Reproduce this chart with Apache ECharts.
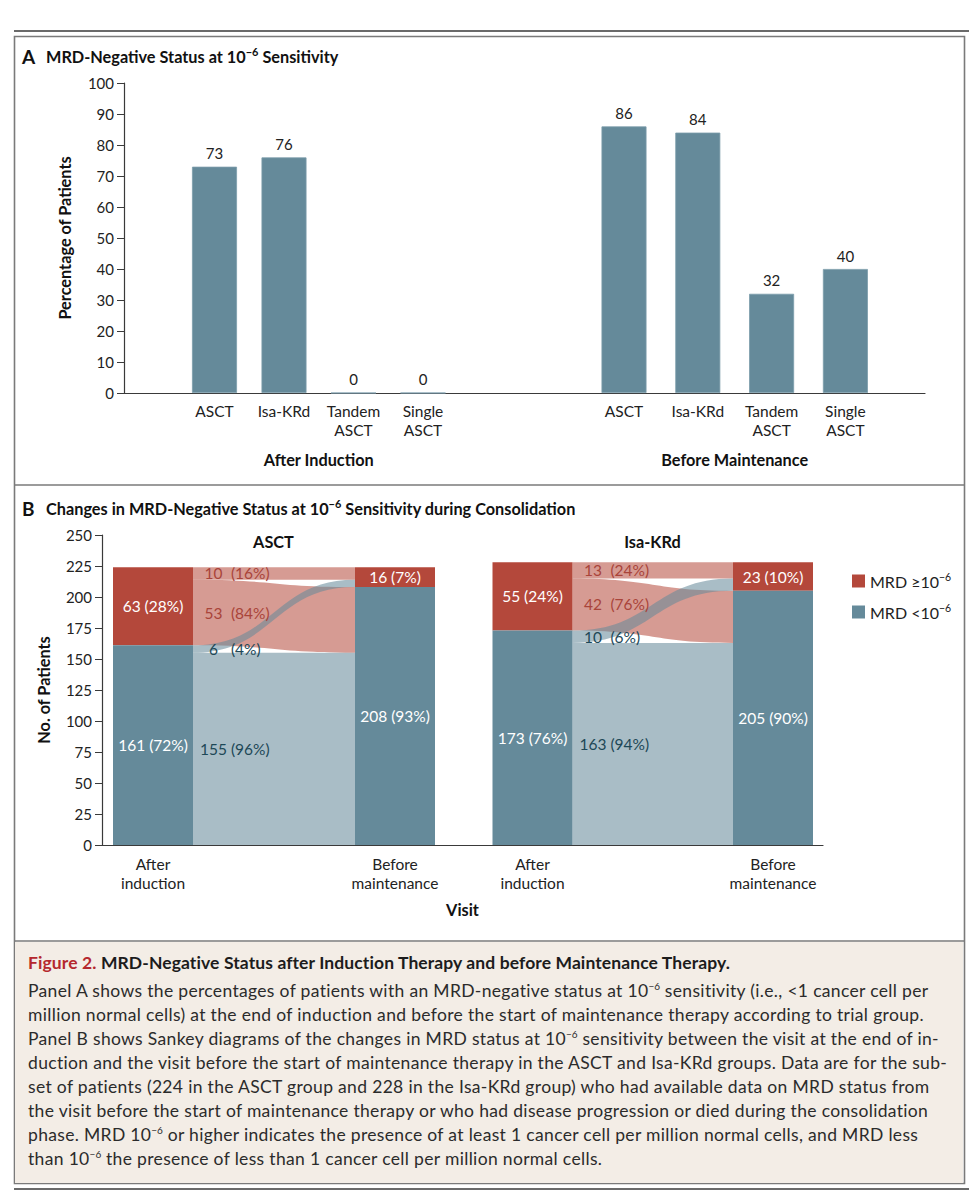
<!DOCTYPE html>
<html>
<head>
<meta charset="utf-8">
<script src="https://cdn.jsdelivr.net/npm/echarts@6/dist/echarts.min.js"></script>
<style>
html,body{margin:0;padding:0;background:#fff;}
#wrap{position:relative;width:973px;height:1200px;overflow:hidden;}
#chart{position:absolute;left:0;top:0;width:973px;height:1200px;}
#cap{position:absolute;left:15px;top:942px;width:948px;height:241px;background:#f3ede6;box-sizing:border-box;padding:9px 0 0 13px;font-family:Lato,sans-serif;color:#2b2b2b;}
#cap .h{font-size:17.5px;line-height:24px;font-weight:bold;color:#1c1c1c;margin-bottom:4px;white-space:nowrap;letter-spacing:0.1px;}
#cap .h span{color:#b5282e;}
#cap .b{font-size:17.5px;line-height:24px;white-space:nowrap;letter-spacing:0.33px;}
#cap sup{font-size:10px;line-height:0;vertical-align:7px;letter-spacing:0;}
</style>
</head>
<body>
<div id="wrap">
<div id="chart"></div>
<div id="cap">
<div class="h"><span>Figure 2.</span> MRD-Negative Status after Induction Therapy and before Maintenance Therapy.</div>
<div class="b">Panel A shows the percentages of patients with an MRD-negative status at 10<sup>−6</sup> sensitivity (i.e., &lt;1 cancer cell per</div>
<div class="b">million normal cells) at the end of induction and before the start of maintenance therapy according to trial group.</div>
<div class="b">Panel B shows Sankey diagrams of the changes in MRD status at 10<sup>−6</sup> sensitivity between the visit at the end of in-</div>
<div class="b">duction and the visit before the start of maintenance therapy in the ASCT and Isa-KRd groups. Data are for the sub-</div>
<div class="b">set of patients (224 in the ASCT group and 228 in the Isa-KRd group) who had available data on MRD status from</div>
<div class="b">the visit before the start of maintenance therapy or who had disease progression or died during the consolidation</div>
<div class="b">phase. MRD 10<sup>−6</sup> or higher indicates the presence of at least 1 cancer cell per million normal cells, and MRD less</div>
<div class="b">than 10<sup>−6</sup> the presence of less than 1 cancer cell per million normal cells.</div>
</div>
</div>
<script>
// ---------- DATA ----------
const panelACats = ['ASCT', 'Isa-KRd', 'Tandem\nASCT', 'Single\nASCT'];
const afterInduction = [73, 76, 0, 0];
const beforeMaintenance = [86, 84, 32, 40];
const visits = ['After\ninduction', 'Before\nmaintenance'];
// nodes: [after induction MRD>=, after induction MRD<, before maintenance MRD>=, before maintenance MRD<]
const asctNodeN = [63, 161, 16, 208];
const asctNodePct = [28, 72, 7, 93];
// flows: [>= to >=, >= to <, < to >=, < to <]
const asctFlowN = [10, 53, 6, 155];
const asctFlowPct = [16, 84, 4, 96];
const isaNodeN = [55, 173, 23, 205];
const isaNodePct = [24, 76, 10, 90];
const isaFlowN = [13, 42, 10, 163];
const isaFlowPct = [24, 76, 6, 94];
const legendNames = ['MRD ≥10−6', 'MRD <10−6'];

// ---------- STYLE ----------
const FONT = 'Lato';
const BAR = '#658a9a';
const RED = '#b4483b';
const BLUE = '#658a9a';
const RED_LINK = 'rgba(180,72,59,0.55)';
const BLUE_LINK = 'rgba(101,138,154,0.56)';
const RED_TXT = '#a9443a';
const BLUE_TXT = '#1d4857';
const AXC = '#3a3a3a';
const NODE_HALF = 40;
const SK_FS = 15.5;

function buildSankey(nodeN, nodePct, flowN, flowPct) {
  const [ip, ineg, mp, mneg] = nodeN;
  const [pp, pn, np, nn] = flowN;
  const it = ip + ineg, mt = mp + mneg;
  return {
    pos: [[0, ineg, it, ip, nodePct[0]], [1, mneg, mt, mp, nodePct[2]]],
    neg: [[0, 0, ineg, ineg, nodePct[1]], [1, 0, mneg, mneg, nodePct[3]]],
    links: [
      [0, it - pp, it, mt - pp, mt, 0, pp, flowPct[0]],
      [0, it - pp - pn, it - pp, mneg - pn, mneg, 0, pn, flowPct[1]],
      [0, ineg - np, ineg, mt - pp - np, mt - pp, 1, np, flowPct[2]],
      [0, ineg - np - nn, ineg - np, mneg - pn - nn, mneg - pn, 1, nn, flowPct[3]]
    ]
  };
}
const sA = buildSankey(asctNodeN, asctNodePct, asctFlowN, asctFlowPct);
const sI = buildSankey(isaNodeN, isaNodePct, isaFlowN, isaFlowPct);

function renderLink(params, api) {
  const s0 = api.value(1), s1 = api.value(2), t0 = api.value(3), t1 = api.value(4);
  const kind = api.value(5), n = api.value(6), pct = api.value(7);
  const a = api.coord([0, s1]), b = api.coord([0, s0]), c = api.coord([1, t1]), d = api.coord([1, t0]);
  const x0 = a[0] + NODE_HALF, x1 = c[0] - NODE_HALF, xm = (x0 + x1) / 2;
  const p = 'M' + x0 + ' ' + a[1] + 'C' + xm + ' ' + a[1] + ' ' + xm + ' ' + c[1] + ' ' + x1 + ' ' + c[1] +
            'L' + x1 + ' ' + d[1] + 'C' + xm + ' ' + d[1] + ' ' + xm + ' ' + b[1] + ' ' + x0 + ' ' + b[1] + 'Z';
  const mid = api.coord([0, (s0 + s1) / 2]);
  const col = kind ? BLUE_TXT : RED_TXT;
  return {
    type: 'group',
    children: [
      { type: 'path', z2: kind ? 2 : 1, shape: { pathData: p }, style: { fill: kind ? BLUE_LINK : RED_LINK } },
      { type: 'text', z2: 10, style: {
          text: '{n|' + n + '}{p| (' + pct + '%)}', x: x0 + 7, y: mid[1],
          align: 'left', verticalAlign: 'middle', fontSize: SK_FS, fontFamily: FONT, fill: col,
          rich: { n: { width: 27, align: 'right', fontSize: SK_FS, fontFamily: FONT, fill: col },
                  p: { fontSize: SK_FS, fontFamily: FONT, fill: col } } } }
    ]
  };
}
function renderNode(params, api) {
  const cx = api.value(0), y0 = api.value(1), y1 = api.value(2), n = api.value(3), pct = api.value(4);
  const top = api.coord([cx, y1]), bot = api.coord([cx, y0]);
  return {
    type: 'group',
    children: [
      { type: 'rect', shape: { x: top[0] - NODE_HALF, y: top[1], width: NODE_HALF * 2, height: bot[1] - top[1] },
        style: { fill: api.visual('color') } },
      { type: 'text', z2: 10, style: { text: n + ' (' + pct + '%)', x: top[0], y: (top[1] + bot[1]) / 2,
          align: 'center', verticalAlign: 'middle', fill: '#ffffff', fontSize: SK_FS, fontFamily: FONT } }
    ]
  };
}

const supRich = { fontSize: 10.5, fontFamily: FONT, padding: [0, 0, 9, 0] };
const titleRich = {
  a: { fontSize: 19, fontWeight: 'bold', fontFamily: FONT, fill: '#111', lineHeight: 22, width: 24 },
  b: { fontSize: 16.3, fontWeight: 'bold', fontFamily: FONT, fill: '#111', lineHeight: 22 },
  s: { fontSize: 11, fontWeight: 'bold', fontFamily: FONT, fill: '#111', padding: [0, 0, 9, 0] }
};

const chart = echarts.init(document.getElementById('chart'), null, { renderer: 'svg', width: 973, height: 1200 });

const catAxisLabel = { fontSize: 15.5, fontFamily: FONT, color: '#222', lineHeight: 19, margin: 8, interval: 0 };
const axisNameStyle = { fontSize: 16.3, fontWeight: 'bold', fontFamily: FONT, color: '#111' };

const option = {
  animation: false,
  backgroundColor: '#ffffff',
  textStyle: { fontFamily: FONT },
  graphic: [
    { type: 'rect', shape: { x: 14, y: 30, width: 955, height: 2 }, style: { fill: '#6a6a6a' } },
    { type: 'rect', shape: { x: 14.5, y: 36.5, width: 950, height: 1147 }, style: { fill: 'none', stroke: '#7a7a7a', lineWidth: 1.6 } },
    { type: 'line', shape: { x1: 14.5, y1: 485, x2: 964.5, y2: 485 }, style: { stroke: '#7a7a7a', lineWidth: 1.6 } },
    { type: 'line', shape: { x1: 14.5, y1: 941, x2: 964.5, y2: 941 }, style: { stroke: '#7a7a7a', lineWidth: 1.6 } },
    { type: 'rect', shape: { x: 14, y: 1188, width: 955, height: 2 }, style: { fill: '#6a6a6a' } },
    { type: 'text', x: 22, y: 56, style: { text: '{a|A}{b|MRD-Negative Status at 10}{s|−6}{b| Sensitivity}', verticalAlign: 'middle', rich: titleRich } },
    { type: 'text', x: 22, y: 508, style: { text: '{a|B}{b|Changes in MRD-Negative Status at 10}{s|−6}{b| Sensitivity during Consolidation}', verticalAlign: 'middle', rich: titleRich } },
    { type: 'text', x: 273.5, y: 541, style: { text: 'ASCT', align: 'center', verticalAlign: 'middle', fontSize: 16.3, fontWeight: 'bold', fontFamily: FONT, fill: '#111' } },
    { type: 'text', x: 652.5, y: 541, style: { text: 'Isa-KRd', align: 'center', verticalAlign: 'middle', fontSize: 16.3, fontWeight: 'bold', fontFamily: FONT, fill: '#111' } }
  ],
  legend: {
    left: 847, top: 566, orient: 'vertical', icon: 'rect', itemWidth: 13, itemHeight: 13, itemGap: 13,
    selectedMode: false, data: legendNames,
    formatter: function (name) { return name === legendNames[0] ? 'MRD ≥10{sup|−6}' : 'MRD <10{sup|−6}'; },
    textStyle: { fontSize: 16, fontFamily: FONT, color: '#222', rich: { sup: supRich } }
  },
  grid: [
    { left: 124, top: 83, width: 801, height: 310 },
    { left: 179.75, top: 83, width: 278, height: 310 },
    { left: 587.1, top: 83, width: 295.2, height: 310 },
    { left: 102, top: 535, width: 721, height: 310 },
    { left: 153, top: 535, width: 242, height: 310 },
    { left: 532.5, top: 535, width: 240.5, height: 310 }
  ],
  xAxis: [
    { gridIndex: 0, type: 'category', data: [''], axisLine: { lineStyle: { color: AXC, width: 1.2 } }, axisTick: { show: false }, axisLabel: { show: false } },
    { gridIndex: 1, type: 'category', data: panelACats, axisLine: { show: false }, axisTick: { show: false }, axisLabel: catAxisLabel,
      name: 'After Induction', nameLocation: 'middle', nameGap: 58, nameTextStyle: axisNameStyle },
    { gridIndex: 2, type: 'category', data: panelACats, axisLine: { show: false }, axisTick: { show: false }, axisLabel: catAxisLabel,
      name: 'Before Maintenance', nameLocation: 'middle', nameGap: 58, nameTextStyle: axisNameStyle },
    { gridIndex: 3, type: 'category', data: [''], axisLine: { lineStyle: { color: AXC, width: 1.2 } }, axisTick: { show: false }, axisLabel: { show: false },
      name: 'Visit', nameLocation: 'middle', nameGap: 56, nameTextStyle: axisNameStyle },
    { gridIndex: 4, type: 'category', boundaryGap: false, data: visits, axisLine: { show: false }, axisTick: { show: false }, axisLabel: Object.assign({}, catAxisLabel, { margin: 9 }) },
    { gridIndex: 5, type: 'category', boundaryGap: false, data: visits, axisLine: { show: false }, axisTick: { show: false }, axisLabel: Object.assign({}, catAxisLabel, { margin: 9 }) }
  ],
  yAxis: [
    { gridIndex: 0, type: 'value', min: 0, max: 100, interval: 10,
      axisLine: { show: true, lineStyle: { color: AXC, width: 1.2 } }, axisTick: { show: true, length: 7, lineStyle: { color: AXC } },
      axisLabel: { fontSize: 15, fontFamily: FONT, color: '#222', margin: 10 }, splitLine: { show: false },
      name: 'Percentage of Patients', nameLocation: 'middle', nameGap: 52, nameTextStyle: axisNameStyle },
    { gridIndex: 1, type: 'value', min: 0, max: 100, show: false },
    { gridIndex: 2, type: 'value', min: 0, max: 100, show: false },
    { gridIndex: 3, type: 'value', min: 0, max: 250, interval: 25,
      axisLine: { show: true, lineStyle: { color: AXC, width: 1.2 } }, axisTick: { show: true, length: 7, lineStyle: { color: AXC } },
      axisLabel: { fontSize: 15, fontFamily: FONT, color: '#222', margin: 10 }, splitLine: { show: false },
      name: 'No. of Patients', nameLocation: 'middle', nameGap: 51, nameTextStyle: axisNameStyle },
    { gridIndex: 4, type: 'value', min: 0, max: 250, show: false },
    { gridIndex: 5, type: 'value', min: 0, max: 250, show: false }
  ],
  series: [
    { type: 'bar', name: 'After Induction', xAxisIndex: 1, yAxisIndex: 1, data: afterInduction, barWidth: 45,
      itemStyle: { color: BAR, borderColor: '#7c9dab', borderWidth: 0.8 },
      label: { show: true, position: 'top', distance: 6, fontSize: 15, fontFamily: FONT, color: '#222' } },
    { type: 'bar', name: 'Before Maintenance', xAxisIndex: 2, yAxisIndex: 2, data: beforeMaintenance, barWidth: 45,
      itemStyle: { color: BAR, borderColor: '#7c9dab', borderWidth: 0.8 },
      label: { show: true, position: 'top', distance: 6, fontSize: 15, fontFamily: FONT, color: '#222' } },
    { type: 'custom', name: 'asct-links', xAxisIndex: 4, yAxisIndex: 4, data: sA.links, encode: { x: 0, y: 1 }, renderItem: renderLink, z: 2 },
    { type: 'custom', name: 'isa-links', xAxisIndex: 5, yAxisIndex: 5, data: sI.links, encode: { x: 0, y: 1 }, renderItem: renderLink, z: 2 },
    { type: 'custom', name: legendNames[0], xAxisIndex: 4, yAxisIndex: 4, data: sA.pos, encode: { x: 0, y: 1 }, renderItem: renderNode, itemStyle: { color: RED }, z: 3 },
    { type: 'custom', name: legendNames[1], xAxisIndex: 4, yAxisIndex: 4, data: sA.neg, encode: { x: 0, y: 1 }, renderItem: renderNode, itemStyle: { color: BLUE }, z: 3 },
    { type: 'custom', name: legendNames[0], xAxisIndex: 5, yAxisIndex: 5, data: sI.pos, encode: { x: 0, y: 1 }, renderItem: renderNode, itemStyle: { color: RED }, z: 3 },
    { type: 'custom', name: legendNames[1], xAxisIndex: 5, yAxisIndex: 5, data: sI.neg, encode: { x: 0, y: 1 }, renderItem: renderNode, itemStyle: { color: BLUE }, z: 3 }
  ]
};
chart.setOption(option);
</script>
</body>
</html>
